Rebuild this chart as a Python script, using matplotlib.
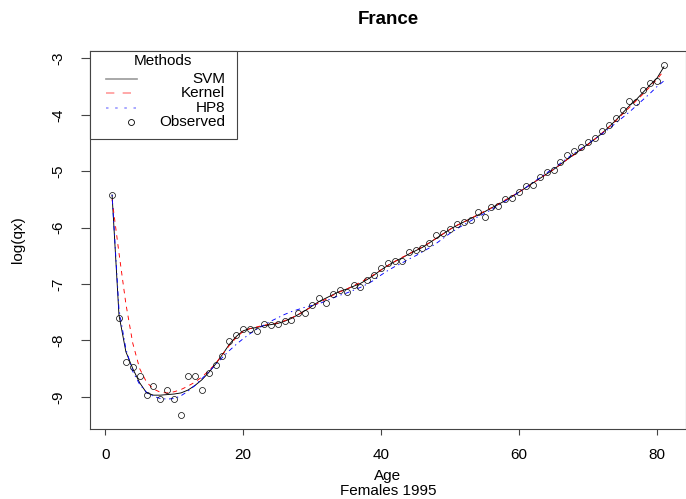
import numpy as np
import matplotlib
matplotlib.use('Agg')
import matplotlib.pyplot as plt
from matplotlib.patches import Rectangle
from matplotlib.lines import Line2D

plt.rcParams['font.family'] = ['Liberation Sans', 'DejaVu Sans']
plt.rcParams['axes.unicode_minus'] = False

# Age 1..81, log(qx), France females 1995
ages = np.arange(1, 82)

observed = [
    -5.42, -7.61, -8.38, -8.47, -8.63, -8.96, -8.81, -9.04, -8.87, -9.03,
    -9.32, -8.63, -8.63, -8.87, -8.57, -8.43, -8.28, -8.01, -7.91, -7.80,
    -7.80, -7.84, -7.71, -7.72, -7.71, -7.65, -7.64, -7.51, -7.51, -7.37,
    -7.25, -7.33, -7.18, -7.11, -7.15, -7.01, -7.05, -6.93, -6.84, -6.71,
    -6.62, -6.59, -6.59, -6.43, -6.40, -6.37, -6.27, -6.13, -6.10, -6.03,
    -5.93, -5.90, -5.87, -5.73, -5.81, -5.63, -5.62, -5.50, -5.48, -5.37,
    -5.27, -5.24, -5.11, -5.02, -4.98, -4.84, -4.72, -4.65, -4.58, -4.49,
    -4.41, -4.28, -4.19, -4.05, -3.91, -3.75, -3.78, -3.57, -3.43, -3.41,
    -3.12,
]

svm = [
    -5.42, -7.55, -8.20, -8.50, -8.75, -8.93, -8.97, -8.97, -8.96, -8.95,
    -8.93, -8.88, -8.80, -8.70, -8.57, -8.42, -8.25, -8.07, -7.93, -7.83,
    -7.79, -7.77, -7.74, -7.72, -7.70, -7.66, -7.61, -7.54, -7.47, -7.39,
    -7.31, -7.25, -7.19, -7.13, -7.09, -7.04, -6.99, -6.92, -6.84, -6.75,
    -6.67, -6.60, -6.54, -6.47, -6.41, -6.35, -6.27, -6.19, -6.11, -6.03,
    -5.96, -5.90, -5.84, -5.78, -5.72, -5.65, -5.59, -5.52, -5.45, -5.37,
    -5.29, -5.21, -5.13, -5.05, -4.97, -4.88, -4.79, -4.70, -4.61, -4.52,
    -4.43, -4.33, -4.22, -4.10, -3.97, -3.84, -3.73, -3.60, -3.47, -3.35,
    -3.15,
]

kernel = [
    -5.50, -6.45, -7.35, -8.05, -8.50, -8.74, -8.86, -8.92, -8.93, -8.91,
    -8.87, -8.81, -8.74, -8.65, -8.54, -8.41, -8.25, -8.09, -7.95, -7.84,
    -7.79, -7.76, -7.73, -7.71, -7.69, -7.65, -7.60, -7.54, -7.47, -7.40,
    -7.33, -7.27, -7.20, -7.14, -7.09, -7.03, -6.97, -6.90, -6.83, -6.75,
    -6.67, -6.60, -6.53, -6.47, -6.40, -6.34, -6.27, -6.19, -6.11, -6.03,
    -5.96, -5.90, -5.84, -5.77, -5.71, -5.65, -5.58, -5.51, -5.44, -5.37,
    -5.29, -5.21, -5.13, -5.05, -4.97, -4.88, -4.79, -4.71, -4.62, -4.53,
    -4.43, -4.33, -4.22, -4.11, -3.99, -3.87, -3.75, -3.63, -3.50, -3.37,
    -3.22,
]

hp8 = [
    -5.42, -7.45, -8.15, -8.55, -8.78, -8.92, -8.99, -9.03, -9.04, -9.03,
    -8.98, -8.90, -8.80, -8.68, -8.56, -8.43, -8.30, -8.18, -8.07, -7.97,
    -7.88, -7.80, -7.73, -7.66, -7.60, -7.54, -7.49, -7.45, -7.41, -7.38,
    -7.35, -7.30, -7.25, -7.20, -7.16, -7.11, -7.06, -7.00, -6.93, -6.84,
    -6.76, -6.69, -6.63, -6.56, -6.50, -6.43, -6.36, -6.28, -6.19, -6.10,
    -6.02, -5.95, -5.88, -5.81, -5.75, -5.68, -5.61, -5.53, -5.45, -5.37,
    -5.29, -5.20, -5.12, -5.03, -4.95, -4.86, -4.77, -4.68, -4.60, -4.51,
    -4.43, -4.34, -4.25, -4.15, -4.05, -3.95, -3.84, -3.73, -3.62, -3.50,
    -3.40,
]

x_ticks = [0, 20, 40, 60, 80]
y_ticks = [-3, -4, -5, -6, -7, -8, -9]

W, H = 686, 499
fig = plt.figure(figsize=(W / 100, H / 100), dpi=100)
ax = fig.add_axes([90 / W, 70 / H, 596 / W, 378 / H])

frame_col = '#444444'
ax.plot(ages, svm, color='black', lw=0.65, zorder=3)
ax.plot(ages, kernel, color='red', lw=0.65, linestyle=(0, (5, 5)), zorder=3)
ax.plot(ages, hp8, color='blue', lw=0.65, linestyle=(0, (1.5, 4, 5, 4)), zorder=3)
ax.plot(ages, observed, linestyle='none', marker='o', ms=4.3, mfc='none',
        mec='black', mew=0.5, zorder=4)

ax.set_xlim(-2.2, 84.2)
ax.set_ylim(-9.57, -2.87)
ax.set_xticks(x_ticks)
ax.set_yticks(y_ticks)
ax.set_yticklabels([str(v) for v in y_ticks], rotation=90, va='center')
ax.tick_params(axis='x', length=4.5, width=0.8, color=frame_col, pad=9, labelsize=11)
ax.tick_params(axis='y', length=6.5, width=0.8, color=frame_col, pad=11, labelsize=11)
for s in ax.spines.values():
    s.set_color(frame_col)
    s.set_linewidth(0.8)

fig.text(388 / W, 1 - 20 / H, 'France', ha='center', va='center',
         fontsize=13.5, fontweight='bold')
fig.text(388 / W, 1 - 476 / H, 'Age', ha='center', va='center', fontsize=11)
fig.text(388 / W, 1 - 491 / H, 'Females 1995', ha='center', va='center', fontsize=11)
fig.text(18 / W, 1 - 240 / H, 'log(qx)', ha='center', va='center',
         rotation=90, fontsize=11)


# legend, drawn in pixel positions of the reference
def px(x, y):
    return (x - 90) / 596, (429 - y) / 378


x0, y0 = px(90, 139)
x1, y1 = px(237, 51)
ax.add_patch(Rectangle((x0, y0), x1 - x0, y1 - y0, transform=ax.transAxes,
                       facecolor='white', edgecolor=frame_col, lw=0.8,
                       zorder=10, clip_on=False))
tx, ty = px(163, 61)
ax.text(tx, ty, 'Methods', transform=ax.transAxes, ha='center', va='center',
        fontsize=11, zorder=11)
labels = ['SVM', 'Kernel', 'HP8']
styles = [('#999999', '-'), ('#ff9999', (0, (5, 5))), ('#9999ff', (0, (1.5, 4, 1.5, 4)))]
rows = [79, 93, 108]
for lab, (col, ls), r in zip(labels, styles, rows):
    la, ya = px(106, r)
    lb, _ = px(137, r)
    ax.add_line(Line2D([la, lb], [ya, ya], transform=ax.transAxes, color=col,
                       lw=1.2, linestyle=ls, zorder=11))
    rx, _ = px(225, r)
    ax.text(rx, ya, lab, transform=ax.transAxes, ha='right', va='center',
            fontsize=11, zorder=11)
ox, oy = px(131, 122)
ax.add_line(Line2D([ox], [oy], transform=ax.transAxes, marker='o', ms=4.3,
                   mfc='none', mec='black', mew=0.6, linestyle='none', zorder=11))
rx, _ = px(225, 122)
ax.text(rx, oy, 'Observed', transform=ax.transAxes, ha='right', va='center',
        fontsize=11, zorder=11)

fig.savefig('out.png', dpi=100)
